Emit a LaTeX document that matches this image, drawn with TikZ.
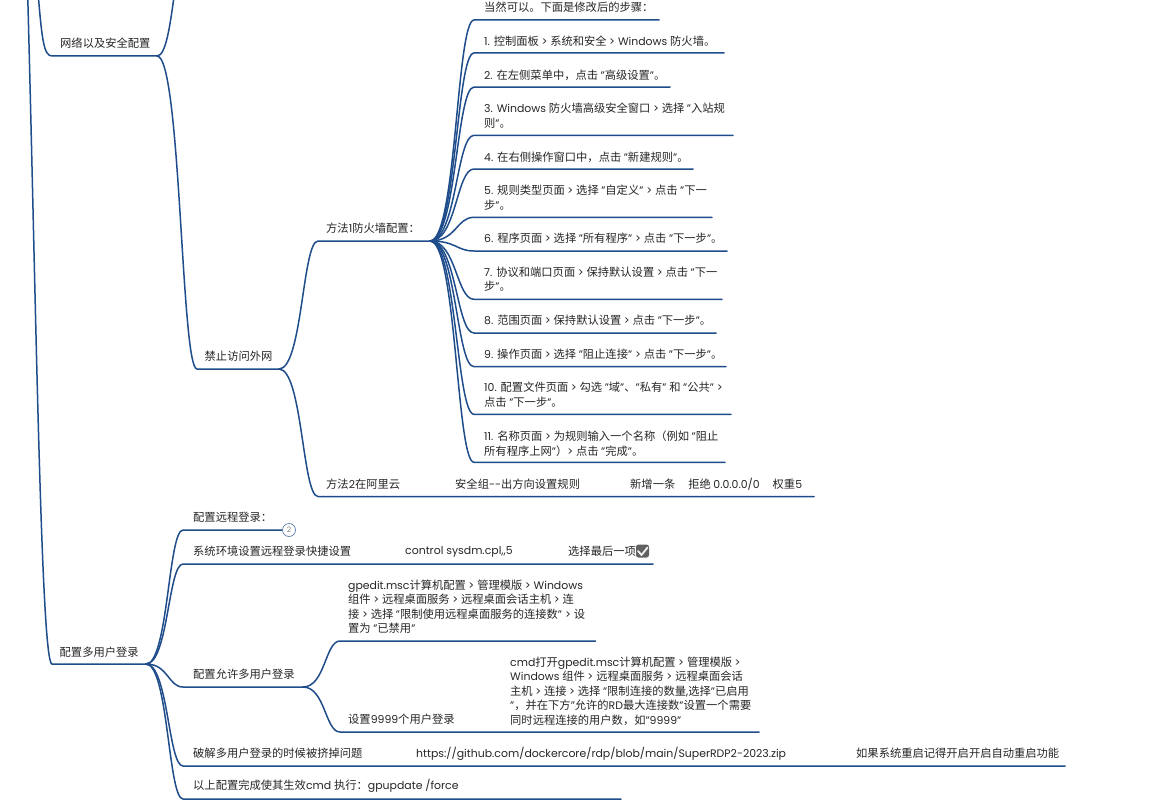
\documentclass[tikz,border=0pt]{standalone}
\usepackage{fontspec}
\usetikzlibrary{calc}
\setmainfont{Poppins}
\newfontfamily\cjkf[Scale=1.035]{Noto Sans CJK SC}
\newcommand{\latf}{\normalfont}
\newXeTeXintercharclass\cjkclass
\count255="4E00
\loop\ifnum\count255<"A000 \XeTeXcharclass\count255=\cjkclass \advance\count255 by 1 \repeat
\count255="3000
\loop\ifnum\count255<"3040 \XeTeXcharclass\count255=\cjkclass \advance\count255 by 1 \repeat
\count255="FF00
\loop\ifnum\count255<"FFF0 \XeTeXcharclass\count255=\cjkclass \advance\count255 by 1 \repeat
\XeTeXinterchartokenstate=1
\XeTeXinterchartoks 0 \cjkclass = {\cjkf}
\XeTeXinterchartoks 4095 \cjkclass = {\cjkf}
\XeTeXinterchartoks \cjkclass 0 = {\latf}
\XeTeXinterchartoks 4095 0 = {\latf}
\definecolor{branch}{HTML}{1F4C8A}
\definecolor{txt}{HTML}{262626}
\tikzset{
  lab/.style={anchor=west,inner sep=0pt,text=txt,font=\fontsize{10.9pt}{14.5pt}\selectfont,align=left},
  line/.style={draw=branch,line width=1.5pt,line cap=round},
}
\newcommand{\sbr}[3]{\draw[line] (#1) .. controls ($(#1)!0.6!(#2|-#1)$) and ($(#2)!0.4!(#1|-#2)$) .. (#2) -- (#3);}
\begin{document}
\begin{tikzpicture}[x=1pt,y=-1pt]
\useasboundingbox[fill=white] (0,0) rectangle (1154,800);
% junctions and free ends
\coordinate (top) at (27.7,-5);
\coordinate (topb) at (38.4,-3);
\coordinate (topc) at (174,-3);
\coordinate (net) at (52,56);   \coordinate (netE) at (157,56);
\coordinate (ban) at (197,369); \coordinate (banE) at (279,369);
\coordinate (m1) at (318,241);  \coordinate (m1E) at (430,241);
\coordinate (m2) at (318,496.5);  \coordinate (m2E) at (814,496.5);
\coordinate (mu) at (52,664);   \coordinate (muE) at (146,664);
\coordinate (rem) at (183,530); \coordinate (remE) at (282.5,530);
\coordinate (sys) at (183,564); \coordinate (sysE) at (653,564);
\coordinate (allow) at (183,687); \coordinate (allowE) at (303,687);
\coordinate (gp) at (340,641);  \coordinate (gpE) at (595.5,641);
\coordinate (nine) at (340,732); \coordinate (nineE) at (759,732);
\coordinate (crk) at (183,766); \coordinate (crkE) at (1065,766);
\coordinate (upd) at (183,799); \coordinate (updE) at (621,799);
% trunk
\draw[line] (top) .. controls (36,300) and (41,664) .. (mu) -- (muE);
\draw[line] (topb) .. controls (42,40) and (44,56) .. (net) -- (netE);
\draw[line] (netE) .. controls (166,56) and (170,25) .. (topc);
\sbr{netE}{ban}{banE}
\sbr{banE}{m1}{m1E}
\sbr{banE}{m2}{m2E}
% steps
\foreach \n/\yy/\xe in {s0/20/659,s1/53/724,s2/87/670,s3/135.3/733,s4/169/693,s5/217.3/712,s6/251/727,s7/299.3/722,s8/333/716,s9/366.7/726,s10/414.3/731,s11/462.3/725}{
  \coordinate (\n) at (474,\yy);
  \coordinate (\n E) at (\xe,\yy);
  \sbr{m1E}{\n}{\n E}
}
% multi-user
\sbr{muE}{rem}{remE}
\sbr{muE}{sys}{sysE}
\sbr{muE}{allow}{allowE}
\sbr{muE}{crk}{crkE}
\sbr{muE}{upd}{updE}
\sbr{allowE}{gp}{gpE}
\sbr{allowE}{nine}{nineE}
% labels
\node[lab] (tnet) at (60,43) {网络以及安全配置};
\node[lab] (tban) at (204.5,356) {禁止访问外网};
\node[lab] (tm1) at (326,228) {方法1防火墙配置：};
\node[lab] (tm2) at (326,484) {方法2在阿里云};
\node[lab] (tsg) at (455,484) {安全组-{}-出方向设置规则};
\node[lab] (tadd) at (630,484) {新增一条\hspace{13pt}拒绝 0.0.0.0/0\hspace{13pt}权重5};
\node[lab] (t0) at (484,7) {当然可以。下面是修改后的步骤：};
\node[lab] (t1) at (484,41) {1. 控制面板 > 系统和安全 > Windows 防火墙。};
\node[lab] (t2) at (484,75) {2. 在左侧菜单中，点击 "高级设置"。};
\node[lab] (t3) at (484,115.5) {3. Windows 防火墙高级安全窗口 > 选择 "入站规\\则"。};
\node[lab] (t4) at (484,157) {4. 在右侧操作窗口中，点击 "新建规则"。};
\node[lab] (t5) at (484,197.5) {5. 规则类型页面 > 选择 "自定义" > 点击 "下一\\步"。};
\node[lab] (t6) at (484,238.5) {6. 程序页面 > 选择 "所有程序" > 点击 "下一步"。};
\node[lab] (t7) at (484,279) {7. 协议和端口页面 > 保持默认设置 > 点击 "下一\\步"。};
\node[lab] (t8) at (484,320) {8. 范围页面 > 保持默认设置 > 点击 "下一步"。};
\node[lab] (t9) at (484,354) {9. 操作页面 > 选择 "阻止连接" > 点击 "下一步"。};
\node[lab] (t10) at (484,394.5) {10. 配置文件页面 > 勾选 "域"、"私有" 和 "公共" >\\点击 "下一步"。};
\node[lab] (t11) at (484,443.5) {11. 名称页面 > 为规则输入一个名称（例如 "阻止\\所有程序上网"）> 点击 "完成"。};
\node[lab] (tmu) at (59.5,652) {配置多用户登录};
\node[lab] (trem) at (193,517) {配置远程登录：};
\node[lab] (tsys) at (193,551) {系统环境设置远程登录快捷设置};
\node[lab] (tctl) at (405,551.7) {control sysdm.cpl,{},5};
\node[lab] (tsel) at (568,551) {选择最后一项};
\node[lab] (tallow) at (193,674) {配置允许多用户登录};
\node[lab] (tgp) at (348,606.5) {gpedit.msc计算机配置 > 管理模版 > Windows\\组件 > 远程桌面服务 > 远程桌面会话主机 > 连\\接 > 选择 "限制使用远程桌面服务的连接数" > 设\\置为 "已禁用"};
\node[lab] (tnine) at (348,719) {设置9999个用户登录};
\node[lab] (tcmd) at (510,691) {cmd打开gpedit.msc计算机配置 > 管理模版 >\\Windows 组件 > 远程桌面服务 > 远程桌面会话\\主机 > 连接 > 选择 "限制连接的数量,选择"已启用\\"，并在下方"允许的RD最大连接数"设置一个需要\\同时远程连接的用户数，如"9999"};
\node[lab] (tcrk) at (193,753) {破解多用户登录的时候被挤掉问题};
\node[lab] (turl) at (416,753.5) {https://github.com/dockercore/rdp/blob/main/SuperRDP2-2023.zip};
\node[lab] (tre) at (856,753) {如果系统重启记得开启开启自动重启功能};
\node[lab] (tupd) at (193,786) {以上配置完成使其生效cmd 执行：gpupdate /force};
% badge
\node[circle,draw=branch!70,line width=0.7pt,fill=white,minimum size=13pt,inner sep=0pt,text=gray,font=\fontsize{7.5pt}{8pt}\selectfont] (badge) at (289,530) {2};
% check icon
\node[rounded corners=2.5pt,fill=black!62,minimum size=13pt,inner sep=0pt] (chk) at (642.5,551) {};
\coordinate (c1) at (638,551); \coordinate (c2) at (641.5,555); \coordinate (c3) at (647.5,547.5);
\draw[white!90!gray,line width=1.8pt,line cap=round,line join=round] (c1) -- (c2) -- (c3);
\end{tikzpicture}
\end{document}
